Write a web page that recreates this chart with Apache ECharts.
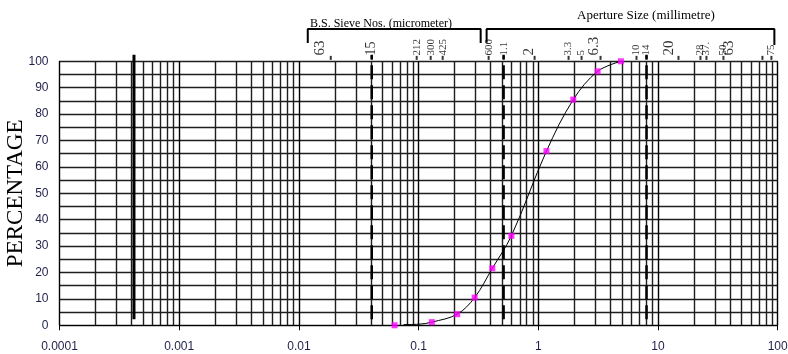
<!DOCTYPE html>
<html>
<head>
<meta charset="utf-8">
<script src="https://cdn.jsdelivr.net/npm/echarts@6/dist/echarts.min.js"></script>
<style>
  html, body { margin: 0; padding: 0; background: #fff; }
  #chart { width: 788px; height: 354px; }
</style>
</head>
<body>
<div id="chart"></div>
<script>
// Particle size distribution: sieve size (mm) against percentage passing
const sieveSizes     = [0.063, 0.129, 0.21, 0.294, 0.413, 0.596, 1.17, 1.96, 3.13, 4.9];
const percentPassing = [0, 1.2, 4.2, 10.5, 21.6, 33.9, 66, 85.5, 96.2, 100];

// Hand-drawn grading curve
const curveSizes   = [0.075, 0.1, 0.129, 0.21, 0.294, 0.413, 0.596, 1.17, 1.96, 3.13, 4.9];
const curvePercent = [0.3, 0.4, 1.2, 4.2, 10.5, 21.6, 33.9, 66, 85.5, 96.2, 100];

// Vertical boundary lines (size in mm) and their vertical extent (%)
const solidBoundary  = [0.000419];
const dashedBoundary = [0.0406, 0.513, 8.02];
const boundaryRange  = [2.3, 102.5];

// Sieve designations along the top
const micronLabels = ['63', '150', '212', '300', '425', '600'];
const micronPos    = [0.01494, 0.0406, 0.0964, 0.1262, 0.1589, 0.3847];
const mmLabels     = ['1.18', '2', '3.35', '5', '6.3', '10', '14', '20', '28', '37.5', '50', '63', '75'];
const mmPos        = [0.5133, 0.8298, 1.79, 2.298, 2.951, 6.614, 8.017, 12.47, 22.63, 25.40, 35.22, 39.52, 88.6];
const sieveTickPos = [0.01846, 0.0406, 0.0964, 0.1262, 0.1589, 0.3847, 0.5133, 0.9313, 1.79, 2.298,
                      3.311, 6.614, 8.017, 14.83, 22.63, 25.40, 35.22, 74.55, 88.6];

// Bracket outlines over the two label groups: [size, %] corners
const micronBracketX = [0.01186, 0.01186, 0.33, 0.33];
const micronBracketY = [106.9, 112.2, 112.2, 106.9];
const mmBracketX     = [0.37, 0.37, 93.8, 93.8];
const mmBracketY     = [107, 112.2, 112.2, 106.2];

// Axis tick labels
const xTickLabels = ['0.0001', '0.001', '0.01', '0.1', '1', '10', '100'];
const yTickLabels = ['0', '10', '20', '30', '40', '50', '60', '70', '80', '90', '100'];

const bigLabels = { '63': 15, '150': 14, '2': 15, '6.3': 15, '20': 15 };
const labelColor = '#1f1f4a';
const gridColor = '#1e1e1e';

// Minor log grid lines: 2..9 within every decade
const minorLines = [];
for (let e = -4; e < 2; e++) {
  for (let m = 2; m <= 9; m++) {
    const x = m * Math.pow(10, e);
    minorLines.push({ coords: [[x, 0], [x, 100]] });
  }
}

const zip = (a, b) => a.map((v, i) => [v, b[i]]);

const topLabelData = micronLabels.map((t, i) => ({ name: t, value: [micronPos[i], 102.2] }))
  .concat(mmLabels.map((t, i) => ({ name: t, value: [mmPos[i], 102.2] })))
  .map(d => ({ ...d, label: { fontSize: bigLabels[d.name] || 11 } }));

const chart = echarts.init(document.getElementById('chart'), null, { renderer: 'canvas' });

chart.setOption({
  animation: false,
  backgroundColor: '#fff',
  grid: {
    left: 59.5, right: 10.3, top: 61.3, bottom: 28.7,
    containLabel: false,
    outerBoundsMode: 'none'
  },
  xAxis: {
    type: 'log',
    logBase: 10,
    min: 0.0001,
    max: 100,
    axisLine: { show: true, lineStyle: { color: '#000', width: 1 } },
    axisTick: { show: true, length: 5, lineStyle: { color: '#000' } },
    splitLine: { show: true, lineStyle: { color: '#000', width: 1.4 } },
    axisLabel: {
      margin: 15,
      color: labelColor,
      fontFamily: 'Liberation Sans',
      fontSize: 12,
      formatter: v => xTickLabels[Math.round(Math.log10(v)) + 4]
    }
  },
  yAxis: {
    type: 'value',
    min: 0,
    max: 100,
    interval: 5,
    name: 'PERCENTAGE',
    nameLocation: 'middle',
    nameGap: 32,
    nameMoveOverlap: false,
    nameTextStyle: { fontFamily: 'Liberation Serif', fontSize: 23, color: '#000' },
    axisLine: { show: true, lineStyle: { color: '#000', width: 1 } },
    axisTick: { show: false },
    splitLine: { show: true, lineStyle: { color: gridColor, width: 1.4 } },
    axisLabel: {
      margin: 11,
      color: labelColor,
      fontFamily: 'Liberation Sans',
      fontSize: 12,
      formatter: v => (v % 10 === 0 ? yTickLabels[v / 10] : '')
    }
  },
  graphic: [
    {
      type: 'text', left: 310, top: 18, z: 5,
      style: { text: 'B.S. Sieve Nos. (micrometer)', font: '12px "Liberation Serif"', fill: '#000' }
    },
    {
      type: 'text', left: 577, top: 9, z: 5,
      style: { text: 'Aperture Size (millimetre)', font: '13px "Liberation Serif"', fill: '#000' }
    }
  ],
  series: [
    {
      name: 'minor grid',
      type: 'lines',
      coordinateSystem: 'cartesian2d',
      silent: true,
      data: minorLines,
      lineStyle: { color: gridColor, width: 1.4, opacity: 1 },
      z: 1
    },
    {
      name: 'curve',
      type: 'line',
      data: zip(curveSizes, curvePercent),
      smooth: 0.35,
      showSymbol: false,
      lineStyle: { color: '#000', width: 1 },
      z: 4
    },
    {
      name: 'solid boundary',
      type: 'line',
      clip: false,
      showSymbol: false,
      data: [[solidBoundary[0], boundaryRange[0]], [solidBoundary[0], boundaryRange[1]]],
      lineStyle: { color: '#000', width: 3 },
      z: 3
    },
    ...dashedBoundary.map(x => ({
      name: 'dashed boundary',
      type: 'line',
      clip: false,
      showSymbol: false,
      data: [[x, boundaryRange[0]], [x, boundaryRange[1]]],
      lineStyle: { color: '#000', width: 2.5, type: [14, 6] },
      z: 3
    })),
    {
      name: 'passing',
      type: 'scatter',
      data: zip(sieveSizes, percentPassing),
      symbol: 'rect',
      symbolSize: 6,
      itemStyle: { color: '#ff00ff' },
      clip: false,
      z: 6
    },
    {
      name: 'sieve ticks',
      type: 'scatter',
      data: sieveTickPos.map(x => [x, 101.3]),
      symbol: 'rect',
      symbolSize: [2, 4],
      itemStyle: { color: '#000' },
      clip: false,
      silent: true
    },
    {
      name: 'sieve labels',
      type: 'scatter',
      data: topLabelData,
      symbolSize: 0,
      clip: false,
      silent: true,
      label: {
        show: true,
        position: [0, 0],
        rotate: 90,
        align: 'left',
        verticalAlign: 'middle',
        fontFamily: 'Liberation Serif',
        color: '#000',
        width: 20,
        overflow: 'truncate',
        ellipsis: '',
        formatter: p => p.name
      }
    },
    {
      name: 'micron bracket',
      type: 'line',
      clip: false,
      showSymbol: false,
      data: zip(micronBracketX, micronBracketY),
      lineStyle: { color: '#000', width: 2 },
      z: 6
    },
    {
      name: 'mm bracket',
      type: 'line',
      clip: false,
      showSymbol: false,
      data: zip(mmBracketX, mmBracketY),
      lineStyle: { color: '#000', width: 2 },
      z: 6
    }
  ]
});
</script>
</body>
</html>
